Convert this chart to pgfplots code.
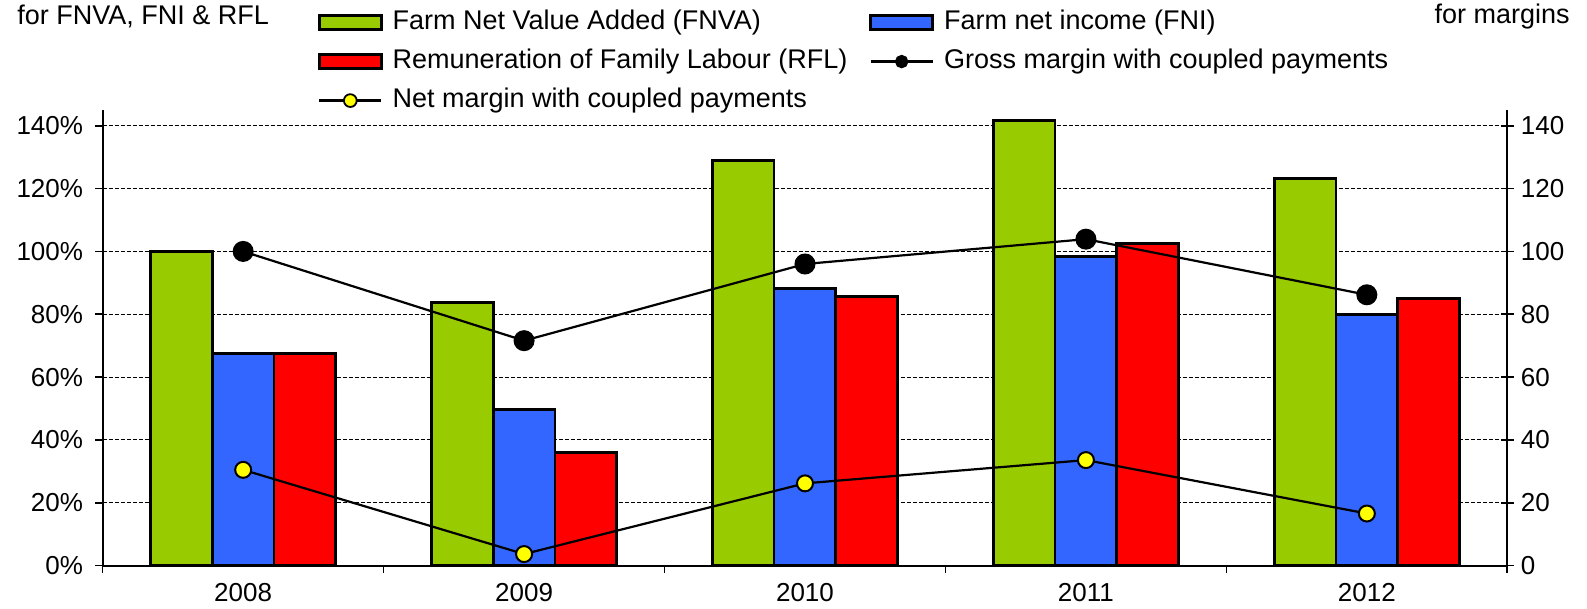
\documentclass[border=0pt]{standalone}
\usepackage{fontspec}
\setmainfont{Liberation Sans}
\usepackage{pgfplots}
\pgfplotsset{compat=1.18}
\definecolor{cfnva}{HTML}{99CC00}
\definecolor{cfni}{HTML}{3366FF}
\definecolor{crfl}{HTML}{FF0000}
\definecolor{cnet}{HTML}{FFFF00}
\pgfplotsset{
  barleg/.style={legend image code/.code={\draw[fill=#1, draw=black, line width=1.3pt] (0pt,-3.5pt) rectangle (31pt,3.5pt); \path (35pt,0pt);}},
  lineleg/.style={legend image code/.code={\draw[mark repeat=2, mark phase=2, ##1] plot coordinates {(0pt,0pt) (15.5pt,0pt) (31pt,0pt)}; \path (35pt,0pt);}},
}
\begin{document}
\begin{tikzpicture}[font=\fontsize{13}{15}\selectfont]
\useasboundingbox (-51.35pt,-21.65pt) rectangle (742.15pt,282.85pt);
\begin{axis}[
  scale only axis, width=702.3pt, height=227.85pt,
  xmin=-0.5, xmax=4.5, ymin=0, ymax=145,
  axis x line*=bottom, axis y line*=left,
  axis line style={line width=1pt, -},
  tick align=outside,
  tick style={black, line width=0.8pt},
  xtick={0,...,4}, xticklabels={2008,2009,2010,2011,2012},
  major x tick style={draw=none},
  minor xtick={-0.5,0.5,...,4.5}, minor tick length=3.5pt,
  ytick={0,20,...,140}, major tick length=3.8pt,
  yticklabel={\pgfmathprintnumber{\tick}\%},
  yticklabel style={xshift=-2.5pt},
  xticklabel style={yshift=-1.5pt},
  /pgf/number format/assume math mode=true,
  tick label style={font=\fontsize{13}{15}\selectfont},
  ymajorgrids, grid style={black, line width=0.5pt, dash pattern=on 2pt off 1pt},
  legend columns=2,
  legend style={draw=none, fill=none, inner sep=0pt,
    at={(axis description cs:0.153,1.2256)}, anchor=north west,
    /tikz/every even column/.append style={column sep=10pt},
    row sep=4.5pt, nodes={inner sep=1pt, text height=10pt, text depth=3pt},
    cells={anchor=west}, font=\fontsize{13.5}{15}\selectfont},
]
\addplot[ybar, bar width=0.22, bar shift=-0.22, fill=cfnva, draw=black, line width=1.4pt, barleg=cfnva]
  coordinates {(0,100) (1,83.8) (2,129.0) (3,141.7) (4,123.1)};
\addlegendentry{Farm Net Value Added (FNVA)}
\addplot[ybar, bar width=0.22, bar shift=0, fill=cfni, draw=black, line width=1.4pt, barleg=cfni]
  coordinates {(0,67.6) (1,49.6) (2,88.3) (3,98.4) (4,80.0)};
\addlegendentry{Farm net income (FNI)}
\addplot[ybar, bar width=0.22, bar shift=0.22, fill=crfl, draw=black, line width=1.4pt, barleg=crfl]
  coordinates {(0,67.6) (1,36.0) (2,85.6) (3,102.6) (4,85.1)};
\addlegendentry{Remuneration of Family Labour (RFL)}
\addlegendimage{sharp plot, black, line width=1.1pt, mark=*, mark size=2.8pt, mark options={fill=black}, lineleg}
\addlegendentry{Gross margin with coupled payments}
\addlegendimage{sharp plot, black, line width=1.1pt, mark=*, mark size=3.2pt, mark options={fill=cnet, line width=0.9pt}, lineleg}
\addlegendentry{Net margin with coupled payments}
\end{axis}
\begin{axis}[
  scale only axis, width=702.3pt, height=227.85pt,
  xmin=-0.5, xmax=4.5, ymin=0, ymax=145,
  axis x line=none, axis y line*=right,
  axis line style={line width=1pt, -},
  tick align=center, major tick length=6.5pt,
  tick style={black, line width=0.8pt},
  ytick={0,20,...,140},
  /pgf/number format/assume math mode=true,
  tick label style={font=\fontsize{13}{15}\selectfont},
]
\addplot[black, line width=1.1pt, mark=*, mark size=4.7pt, mark options={fill=black}]
  coordinates {(0,100) (1,71.6) (2,96.0) (3,103.9) (4,86.2)};
\addplot[black, line width=1.1pt, mark=*, mark size=4pt, mark options={fill=cnet, line width=1pt}]
  coordinates {(0,30.5) (1,3.7) (2,26.2) (3,33.6) (4,16.6)};
\end{axis}
\node[anchor=base west, inner sep=0pt, font=\fontsize{13.5}{15}\selectfont] at (-42.85pt,270.35pt) {for FNVA, FNI \& RFL};
\node[anchor=base east, inner sep=0pt, font=\fontsize{13.5}{15}\selectfont] at (733.65pt,270.85pt) {for margins};
\end{tikzpicture}
\end{document}
